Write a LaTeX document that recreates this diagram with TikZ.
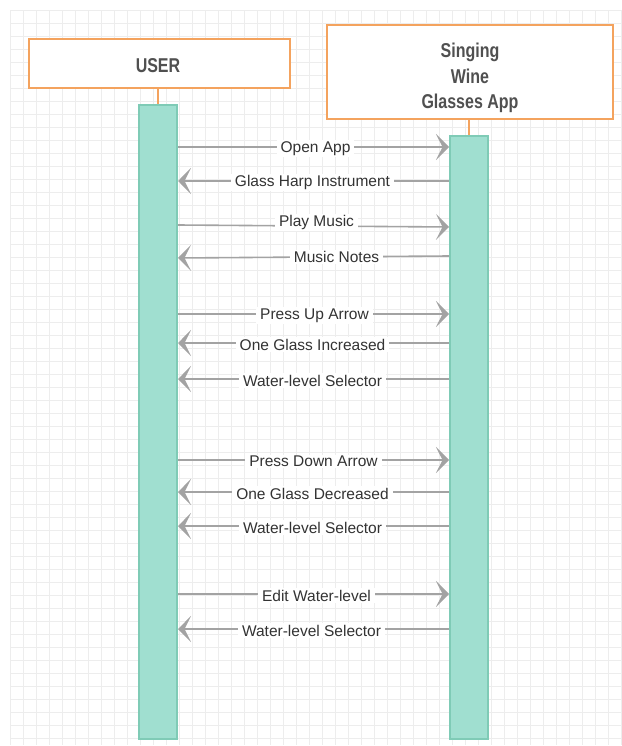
\documentclass[tikz,border=0pt]{standalone}
\usepackage{fontspec}
\setmainfont{Liberation Sans}
\newfontfamily\titlefont[FakeStretch=0.8]{Liberation Sans}
\usetikzlibrary{arrows.meta}
\definecolor{orangeb}{HTML}{F4A35E}
\definecolor{tealfill}{HTML}{A0DFD0}
\definecolor{tealdraw}{HTML}{7FCBB6}
\definecolor{arrowc}{HTML}{A3A3A3}
\definecolor{gridc}{HTML}{EDEDED}
\definecolor{txtc}{HTML}{333333}
\definecolor{titlec}{HTML}{505050}
\tikzset{
  actorbox/.style={draw=orangeb, line width=2pt, fill=white, inner sep=0pt},
  actortext/.style={text=titlec, font=\titlefont\bfseries\fontsize{20}{25.5}\selectfont, align=center, inner sep=0pt},
  lifebox/.style={draw=tealdraw, line width=2pt, fill=tealfill, inner sep=0pt},
  tether/.style={draw=orangeb, line width=1.5pt},
  msg/.style={draw=arrowc, line width=1.6pt, -{Stealth[length=13pt,width=26pt,inset=6.5pt]}},
  lbl/.style={fill=white, text=txtc, font=\fontsize{15.5}{17}\selectfont, inner xsep=4pt, inner ysep=1.5pt, yshift=-1.5pt}
}
\begin{document}
\begin{tikzpicture}[x=1pt,y=-1pt]
\useasboundingbox (0,0) rectangle (621,746);
\foreach \gx in {10,23,...,621} \draw[gridc, line width=0.8pt] (\gx,10) -- (\gx,745);
\foreach \gy in {10,23,...,745} \draw[gridc, line width=0.8pt] (10,\gy) -- (621,\gy);
% actors
\node[actorbox, minimum width=261pt, minimum height=49pt] (user) at (159.5,63.5) {};
\node[actortext] (usert) at (158,66) {USER};
\node[actorbox, minimum width=286pt, minimum height=94pt] (app) at (470,72) {};
\node[actortext] (appt) at (470,78) {Singing\\Wine\\Glasses App};
% lifelines
\node[lifebox, minimum width=38pt, minimum height=634pt, anchor=north] (u) at (158,104) {};
\node[lifebox, minimum width=38pt, minimum height=603pt, anchor=north] (a) at (469,135) {};
\draw[tether] (user.south -| u.north) -- (u.north);
\draw[tether] (app.south -| a.north) -- (a.north);
% messages
\draw[msg] (u.east |- 0,147) -- node[lbl, xshift=2pt] {Open App} (a.west |- 0,147);
\draw[msg] (a.west |- 0,181) -- node[lbl, xshift=-1pt] {Glass Harp Instrument} (u.east |- 0,181);
\draw[msg] (u.east |- 0,225) -- node[lbl, xshift=3pt, yshift=5pt] {Play Music} (a.west |- 0,227);
\draw[msg] (a.west |- 0,256) -- node[lbl, xshift=23pt, yshift=1.5pt] {Music Notes} (u.east |- 0,258);
\draw[msg] (u.east |- 0,314) -- node[lbl, xshift=1pt] {Press Up Arrow} (a.west |- 0,314);
\draw[msg] (a.west |- 0,343) -- node[lbl, xshift=-1pt] {One Glass Increased} (u.east |- 0,343);
\draw[msg] (a.west |- 0,379) -- node[lbl, xshift=-1pt] {Water-level Selector} (u.east |- 0,379);
\draw[msg] (u.east |- 0,460) -- node[lbl] {Press Down Arrow} (a.west |- 0,460);
\draw[msg] (a.west |- 0,492) -- node[lbl, xshift=-1pt] {One Glass Decreased} (u.east |- 0,492);
\draw[msg] (a.west |- 0,526) -- node[lbl, xshift=-1pt] {Water-level Selector} (u.east |- 0,526);
\draw[msg] (u.east |- 0,594) -- node[lbl, xshift=3pt] {Edit Water-level} (a.west |- 0,594);
\draw[msg] (a.west |- 0,629) -- node[lbl, xshift=-2pt] {Water-level Selector} (u.east |- 0,629);
\end{tikzpicture}
\end{document}
